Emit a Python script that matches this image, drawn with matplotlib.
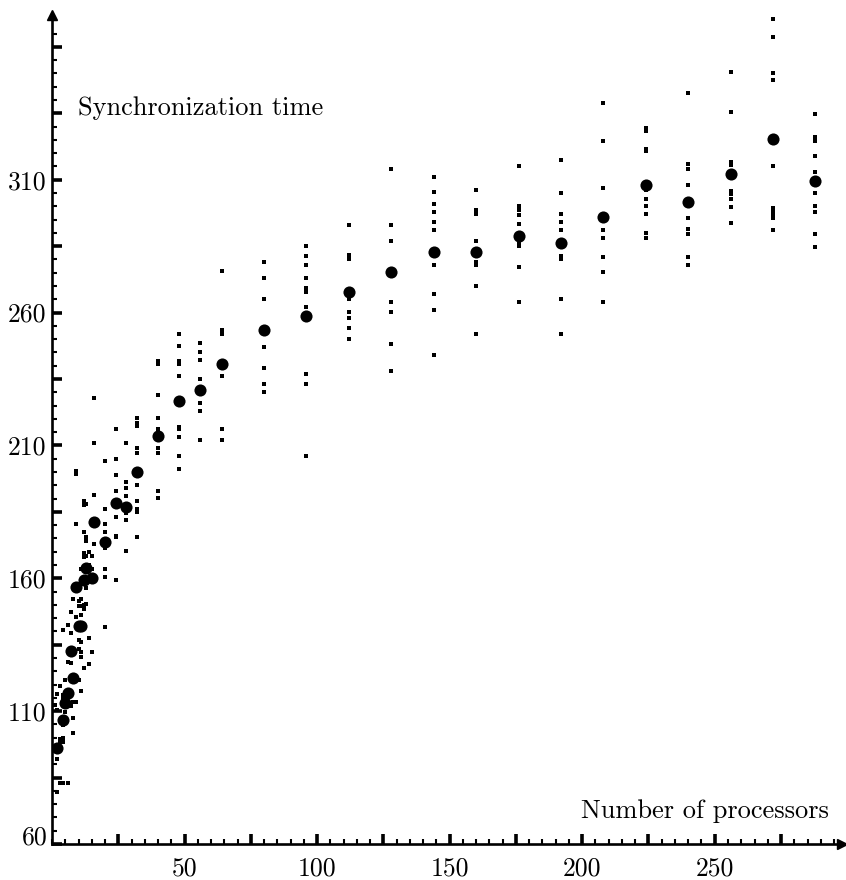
import matplotlib
matplotlib.use('Agg')
import matplotlib.pyplot as plt
from matplotlib.ticker import FixedLocator, MultipleLocator, FuncFormatter

# ---- data ----
mean_x = [2, 4, 5, 6, 7, 8, 9, 10, 11, 12, 13, 15, 16, 20, 24, 28, 32, 40, 48, 56,
          64, 80, 96, 112, 128, 144, 160, 176, 192, 208, 224, 240, 256, 272, 288]
mean_y = [96.3, 106.6, 113.25, 117, 132.6, 122.6, 156.9, 142.2, 142.2, 159.4, 163.8,
          160.1, 181.2, 173.7, 188.4, 186.9, 200, 213.5, 226.6, 231, 240.6, 253.6,
          258.75, 267.9, 275.4, 282.75, 282.75, 288.9, 286.1, 296, 307.9, 301.6,
          312.1, 325.25, 309.4]

sample_x = (
    [1] + [2] * 4 + [3] * 4 + [4] * 7 + [5] * 2 + [6] * 3 + [7] * 4 + [8] * 4 +
    [9] * 5 + [10] * 5 + [11] * 8 + [12] * 8 + [13] * 6 + [14] * 4 + [15] * 3 +
    [16] * 4 + [20] * 8 + [24] * 8 + [28] * 7 + [32] * 10 + [40] * 9 + [48] * 10 +
    [56] * 7 + [64] * 6 + [80] * 7 + [96] * 11 + [112] * 9 + [128] * 7 +
    [144] * 10 + [160] * 8 + [176] * 9 + [192] * 9 + [208] * 8 + [224] * 10 +
    [240] * 9 + [256] * 9 + [272] * 10 + [288] * 10
)
sample_y = (
    [112.25] +
    [116.6, 110.4, 91.9, 79.75] +
    [119.5, 99.4, 98.5, 82.9] +
    [140.4, 116, 114.75, 104.75, 99.75, 98.5, 82.9] +
    [121.6, 109.75] +
    [128.5, 142.6, 82.9] +
    [139.5, 128, 112, 147.5] +
    [113.5, 107.5, 101.6, 152.25] +
    [113.5, 200.4, 199.1, 180.4, 145.4] +
    [136.6, 133.5, 121.6, 151.4, 149.5] +
    [136, 132.25, 130.4, 117.6, 163.5, 152.25, 149.5, 146.25] +
    [126.25, 189.1, 187.5, 177.5, 169.4, 167.9, 150, 148.5] +
    [187.9, 175.4, 174.1, 168.25, 156.25, 150.4] +
    [137.5, 127.9, 169.75, 165.1] +
    [132.25, 168.5, 163.5] +
    [191.25, 172.9, 228, 211] +
    [204.25, 186.25, 180.25, 177.25, 171.25, 163.4, 160.4, 141.6] +
    [216.25, 205, 199, 193, 183.25, 176.1, 175.4, 159.25] +
    [211, 196.4, 194.1, 191.1, 184.4, 182.1, 170.1] +
    [220.4, 218.5, 217.25, 209.1, 207.25, 195.25, 189.25, 186.25, 185.1, 175.4] +
    [241.6, 240.75, 229, 220.4, 216.25, 209.1, 207.25, 193, 190.4] +
    [252, 247.5, 241.6, 240.75, 236.1, 217, 216.25, 213.25, 206.1, 201.25] +
    [248.6, 245.25, 242, 235, 226, 223, 212.1] +
    [275.6, 253.5, 252, 236.1, 216.25, 212.1] +
    [278.9, 272.9, 265, 247, 239.1, 233.1, 230.1] +
    [285, 281.25, 277.75, 272.9, 269.4, 268.5, 267.9, 262, 236.9, 233.1, 206.1] +
    [293.1, 281.5, 280.6, 280, 265, 260.1, 257.9, 254.1, 250] +
    [314, 293.1, 287.1, 263.9, 260.1, 248.1, 238] +
    [311, 305.5, 301, 298, 294, 290.9, 277.75, 266.9, 260.9, 244] +
    [306, 298.5, 297, 287.1, 279.1, 277.75, 269.9, 251.9] +
    [315.1, 300, 298.5, 296.6, 293.3, 286, 285, 277.25, 263.9] +
    [317.5, 305, 297, 294.1, 291, 281.25, 280.1, 265.1, 252] +
    [338.9, 324.6, 307, 291, 288, 281.1, 275.25, 263.9] +
    [329.4, 328.5, 321.75, 320.75, 306, 302.9, 300, 297, 290, 288] +
    [342.6, 315.75, 314, 307.9, 295.75, 291.6, 289.75, 281.1, 277.75] +
    [350.5, 335.5, 316.75, 315.5, 305.75, 304.5, 302.6, 299.75, 293.9] +
    [370.4, 363.75, 350, 347.5, 315, 299.4, 298.1, 297, 295.6, 291] +
    [334.75, 326, 324.75, 319, 313, 305, 300, 297.75, 289.75, 284.75]
)

x_major = list(range(25, 300, 25))
x_labeled = [50, 100, 150, 200, 250]
y_major = list(range(60, 372, 25))
y_labeled = [60, 110, 160, 210, 260, 310]

x_title = "Number of processors"
y_title = "Synchronization time"

# ---- figure ----
plt.rcParams['font.family'] = ['cmr10', 'DejaVu Serif']
plt.rcParams['axes.formatter.use_mathtext'] = True

W, H = 846, 880
fig = plt.figure(figsize=(W / 100, H / 100), dpi=100)
ax = fig.add_axes([52 / W, 1 - 844 / H, (842 - 52) / W, (844 - 15) / H])
ax.set_xlim(0, 298)
ax.set_ylim(60, 372)

ax.scatter(sample_x, sample_y, s=5.5, marker='s', c='k', linewidths=0, zorder=3)
ax.scatter(mean_x, mean_y, s=76, marker='o', c='k', linewidths=0, zorder=4)

for side in ('top', 'right'):
    ax.spines[side].set_visible(False)
for side in ('left', 'bottom'):
    ax.spines[side].set_linewidth(1.9)

ax.xaxis.set_major_locator(FixedLocator(x_major))
ax.xaxis.set_minor_locator(MultipleLocator(5))
ax.yaxis.set_major_locator(FixedLocator(y_major))
ax.yaxis.set_minor_locator(MultipleLocator(5))

ax.xaxis.set_major_formatter(FuncFormatter(
    lambda v, p: f"{int(round(v))}" if int(round(v)) in x_labeled else ""))
ax.yaxis.set_major_formatter(FuncFormatter(
    lambda v, p: f"{int(round(v))}" if (int(round(v)) in y_labeled and int(round(v)) != 60) else ""))

ax.tick_params(which='major', direction='in', length=7.5, width=2.6,
               labelsize=18.5, color='k')
ax.tick_params(which='minor', direction='in', length=3.8, width=1.5, color='k')
ax.tick_params(axis='x', which='major', pad=9)
ax.tick_params(axis='y', which='major', pad=4)

# "60" label sits just above the corner
ax.text(-4 / 2.65, 60, "60", ha='right', va='baseline', fontsize=18.5)

# arrow heads
ax.plot(1, 0, '>', color='k', ms=7, transform=ax.transAxes, clip_on=False, zorder=5)
ax.plot(0, 1, '^', color='k', ms=7, transform=ax.transAxes, clip_on=False, zorder=5)

fig.text(78 / W, 1 - 115 / H, y_title, ha='left', va='baseline', fontsize=19)
fig.text(829 / W, 1 - 818 / H, x_title, ha='right', va='baseline', fontsize=19)

fig.savefig("out.png", dpi=100)
